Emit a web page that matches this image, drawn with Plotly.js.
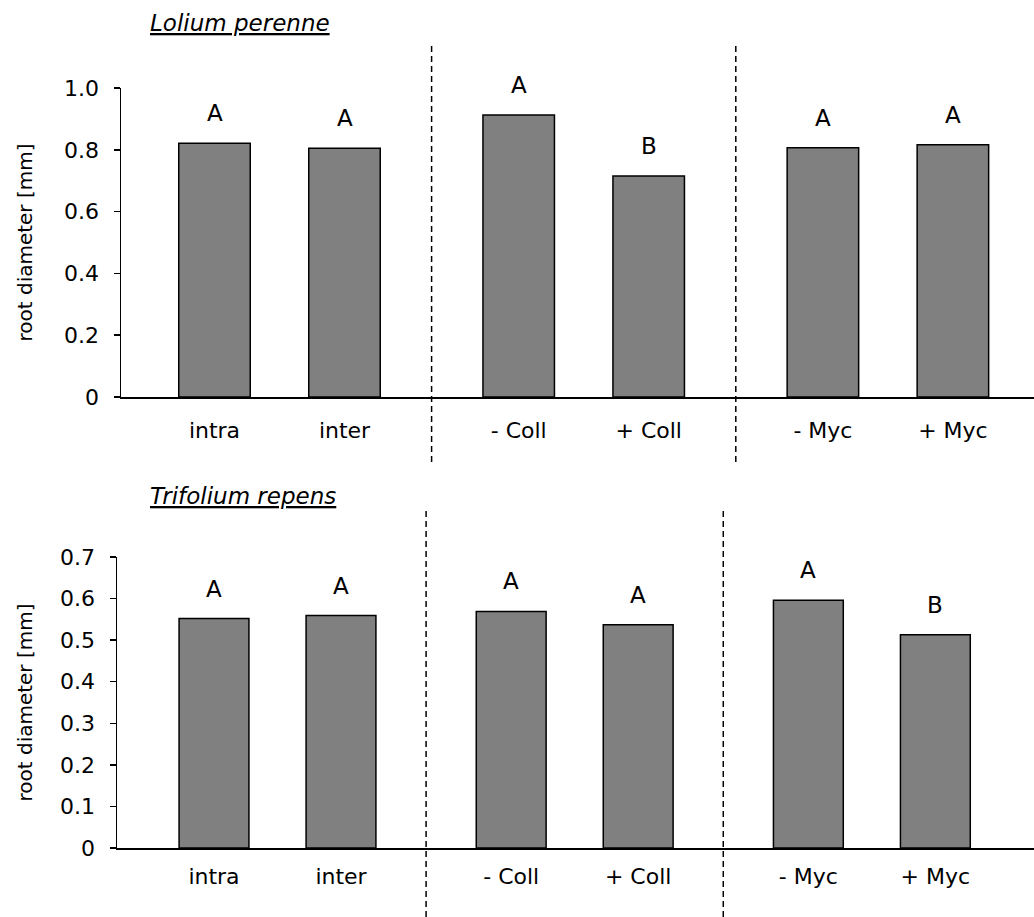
<!DOCTYPE html>
<html>
<head>
<meta charset="utf-8">
<script src="https://cdn.plot.ly/plotly-3.0.1.min.js"></script>
<style>html,body{margin:0;padding:0;background:#fff;}#chart{width:1034px;height:917px;}</style>
</head>
<body>
<div id="chart"></div>
<script>
// ---- data ----
const categories = ["intra", "inter", "- Coll", "+ Coll", "- Myc", "+ Myc"];
const groupIndex = [0, 0, 1, 1, 2, 2];
const slotIndex  = [0, 1, 0, 1, 0, 1];

const loliumValues   = [0.821, 0.805, 0.913, 0.715, 0.807, 0.816];
const loliumLetters  = ["A", "A", "A", "B", "A", "A"];
const trifoliumValues  = [0.552, 0.559, 0.569, 0.537, 0.596, 0.513];
const trifoliumLetters = ["A", "A", "A", "A", "A", "B"];

const loliumTickVals = [0, 0.2, 0.4, 0.6, 0.8, 1.0];
const loliumTickText = ["0", "0.2", "0.4", "0.6", "0.8", "1.0"];
const trifoliumTickVals = [0, 0.1, 0.2, 0.3, 0.4, 0.5, 0.6, 0.7];
const trifoliumTickText = ["0", "0.1", "0.2", "0.3", "0.4", "0.5", "0.6", "0.7"];

const panelTitles = ["Lolium perenne", "Trifolium repens"];
const yTitle = "root diameter [mm]";

// ---- layout helpers ----
const FONT = "DejaVu Sans, Liberation Sans, Arial, sans-serif";
const groupStride = 2.34;
const xs = groupIndex.map((g, i) => g * groupStride + slotIndex[i]);
const dividers = [ (xs[1] + xs[2]) / 2, (xs[3] + xs[4]) / 2 ];

function barTrace(vals, xa, ya) {
  return {
    type: "bar", x: xs, y: vals, xaxis: xa, yaxis: ya, width: 0.55,
    marker: { color: "#808080", line: { color: "#000", width: 1.5 } },
    hoverinfo: "skip", showlegend: false
  };
}

const data = [
  barTrace(loliumValues, "x", "y"),
  barTrace(trifoliumValues, "x2", "y2")
];

function letterAnns(vals, letters, xr, yr) {
  return vals.map((v, i) => ({
    x: xs[i], y: v, xref: xr, yref: yr, text: letters[i], showarrow: false,
    yanchor: "bottom", yshift: 15, font: { family: FONT, size: 23, color: "#000" }
  }));
}

const annotations = [
  ...letterAnns(loliumValues, loliumLetters, "x", "y"),
  ...letterAnns(trifoliumValues, trifoliumLetters, "x2", "y2"),
  { xref: "paper", yref: "paper", x: 148/1034, y: 1 - 23/917, xanchor: "left", yanchor: "middle",
    text: "<u>" + panelTitles[0] + "</u>", showarrow: false,
    font: { family: FONT, size: 23, style: "italic", color: "#000" } },
  { xref: "paper", yref: "paper", x: 148/1034, y: 1 - 496/917, xanchor: "left", yanchor: "middle",
    text: "<u>" + panelTitles[1] + "</u>", showarrow: false,
    font: { family: FONT, size: 23, style: "italic", color: "#000" } }
];

const dashLine = { color: "#000", width: 1.5, dash: "6px,4px" };
const shapes = [
  ...dividers.map(d => ({ type: "line", xref: "x", yref: "paper", x0: d, x1: d, y0: 1 - 462/917, y1: 1 - 45/917, line: dashLine })),
  ...dividers.map(d => ({ type: "line", xref: "x2", yref: "paper", x0: d, x1: d, y0: 0, y1: 1 - 507/917, line: dashLine }))
];

function xAxis(domain, range, anchor, standoff) {
  return {
    domain: domain, range: range, anchor: anchor,
    tickmode: "array", tickvals: xs, ticktext: categories,
    ticks: "", showgrid: false, zeroline: false,
    showline: true, linecolor: "#000", linewidth: 1.5,
    tickfont: { family: FONT, size: 22, color: "#000" },
    ticklabelstandoff: standoff, fixedrange: true
  };
}
function yAxis(domain, range, tv, tt, anchor, standoff) {
  return {
    domain: domain, range: range, anchor: anchor,
    tickmode: "array", tickvals: tv, ticktext: tt,
    ticks: "outside", ticklen: 6, tickwidth: 1.5, tickcolor: "#000",
    showgrid: false, zeroline: false,
    showline: true, linecolor: "#000", linewidth: 1.5,
    tickfont: { family: FONT, size: 22, color: "#000" },
    ticklabelstandoff: 10,
    title: { text: yTitle, font: { family: FONT, size: 20, color: "#000" }, standoff: standoff },
    fixedrange: true
  };
}

const layout = {
  width: 1034, height: 917,
  margin: { l: 0, r: 0, t: 0, b: 0 },
  paper_bgcolor: "#fff", plot_bgcolor: "#fff",
  showlegend: false,
  bargap: 0,
  xaxis:  xAxis([121/1034, 1], [(121 - 214.5)/130, (1034 - 214.5)/130], "y", 13),
  yaxis:  yAxis([1 - 397/917, 1 - 88/917], [0, 1.0], loliumTickVals, loliumTickText, "x", 26),
  xaxis2: xAxis([117/1034, 1], [(117 - 214)/127, (1034 - 214)/127], "y2", 8),
  yaxis2: yAxis([1 - 848/917, 1 - 557/917], [0, 0.7], trifoliumTickVals, trifoliumTickText, "x2", 22),
  annotations: annotations,
  shapes: shapes
};

Plotly.newPlot("chart", data, layout, { staticPlot: true, displayModeBar: false });
</script>
</body>
</html>
